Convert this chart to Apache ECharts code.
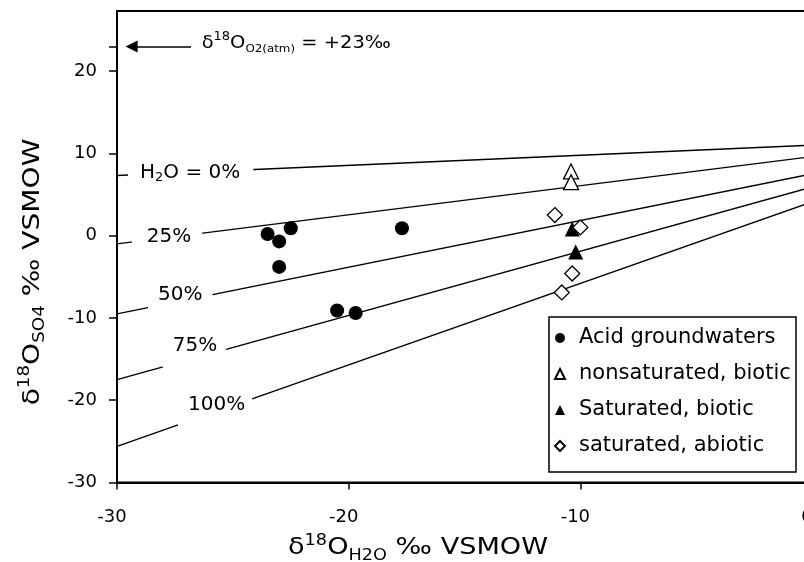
<!DOCTYPE html>
<html>
<head>
<meta charset="utf-8">
<script src="https://cdn.jsdelivr.net/npm/echarts@6/dist/echarts.min.js"></script>
<style>
  html, body { margin: 0; padding: 0; background: #fff; }
  #chart { width: 804px; height: 562px; }
</style>
</head>
<body>
<div id="chart"></div>
<script>
// Sample groups: δ18O of water (x) and δ18O of sulfate (y), ‰ VSMOW
const acidX = [-23.5, -23.0, -22.5, -23.0, -17.7, -20.5, -19.7];
const acidY = [0.2, -0.7, 0.9, -3.8, 0.9, -9.1, -9.4];
const nonsatBioX = [-10.4, -10.4];
const nonsatBioY = [7.8, 6.5];
const satBioX = [-10.35, -10.2];
const satBioY = [0.8, -2.0];
const satAbioX = [-11.1, -10.0, -10.35, -10.8];
const satAbioY = [2.5, 1.0, -4.6, -6.9];

// Mixing lines: share of sulfate oxygen coming from water, evaluated at both ends of the x range
const mixNames = ['H2O = 0%', '25%', '50%', '75%', '100%'];
const mixX = [-30, 0];
const mixStartY = [7.3, -1.0, -9.5, -17.5, -25.6];
const mixEndY = [11.0, 9.6, 7.5, 5.9, 4.1];

// Atmospheric O2 reference value and its arrow extent
const o2Atm = 23;
const o2ArrowX = [-26.8, -29.37];

// Axis ticks
const xTicks = [-30, -20, -10, 0];
const yLabelTicks = [-30, -20, -10, 0, 10, 20];
const yTickMarks = [-30, -20, -10, 0, 10, 20, 23];

const seriesNames = ['Acid groundwaters', 'nonsaturated, biotic', 'Saturated, biotic', 'saturated, abiotic'];

const FONT = 'DejaVu Sans';

function pairs(xs, ys) { return xs.map((x, i) => [x, ys[i]]); }

const lineSeries = mixNames.map((name, i) => {
  const s = {
    name: name,
    type: 'line',
    data: [[mixX[0], mixStartY[i]], [mixX[1], mixEndY[i]]],
    symbol: 'none',
    silent: true,
    z: 2,
    lineStyle: { color: '#000', width: 1.4 }
  };
  if (i === 0) {
    s.markLine = {
      silent: true,
      symbol: 'none',
      label: { show: false },
      lineStyle: { color: '#000', width: 1.5, type: 'solid' },
      emphasis: { disabled: true },
      data: [[
        { coord: [o2ArrowX[0], o2Atm], symbol: 'none' },
        { coord: [o2ArrowX[1], o2Atm], symbol: 'triangle', symbolSize: 12 }
      ]]
    };
  }
  return s;
});

const scatterSeries = [
  { name: seriesNames[0], type: 'scatter', data: pairs(acidX, acidY), symbol: 'circle', symbolSize: 14,
    itemStyle: { color: '#000', opacity: 1 } },
  { name: seriesNames[1], type: 'scatter', data: pairs(nonsatBioX, nonsatBioY), symbol: 'triangle', symbolSize: 15,
    itemStyle: { color: '#fff', borderColor: '#000', borderWidth: 1.3, opacity: 1 } },
  { name: seriesNames[2], type: 'scatter', data: pairs(satBioX, satBioY), symbol: 'triangle', symbolSize: 15,
    itemStyle: { color: '#000', opacity: 1 } },
  { name: seriesNames[3], type: 'scatter', data: pairs(satAbioX, satAbioY), symbol: 'diamond', symbolSize: 15,
    itemStyle: { color: '#fff', borderColor: '#000', borderWidth: 1.3, opacity: 1 } }
];
scatterSeries.forEach(s => { s.z = 5; s.silent = true; });

// Rich text styles for the titles and annotations
const titleRich = {
  b: { fontFamily: FONT, fontSize: 23, lineHeight: 30, fill: '#000' },
  sup: { fontFamily: FONT, fontSize: 15, lineHeight: 15, verticalAlign: 'top', fill: '#000' },
  sub: { fontFamily: FONT, fontSize: 15, lineHeight: 15, verticalAlign: 'bottom', fill: '#000' }
};
const noteRich = {
  b: { fontFamily: FONT, fontSize: 18, lineHeight: 24, fill: '#000' },
  sup: { fontFamily: FONT, fontSize: 12, lineHeight: 12, verticalAlign: 'top', fill: '#000' },
  sub: { fontFamily: FONT, fontSize: 11, lineHeight: 11, verticalAlign: 'bottom', fill: '#000' }
};
const lineLabelRich = {
  b: { fontFamily: FONT, fontSize: 20, lineHeight: 22, fill: '#000' },
  s: { fontFamily: FONT, fontSize: 13, lineHeight: 13, verticalAlign: 'bottom', fill: '#000' }
};

function lineLabel(text, x, y, padding) {
  return {
    type: 'text', x: x, y: y, z: 10, silent: true,
    style: {
      text: text, rich: lineLabelRich, fontFamily: FONT, fontSize: 20, lineHeight: 22,
      align: 'left', verticalAlign: 'top', backgroundColor: '#fff', padding: padding, fill: '#000'
    }
  };
}

const option = {
  animation: false,
  backgroundColor: '#fff',
  grid: { left: 117, top: 11, width: 695, height: 471.5, show: true, borderColor: '#000', borderWidth: 2,
    backgroundColor: 'transparent', containLabel: false, outerBoundsMode: 'none' },
  xAxis: {
    type: 'value', min: -30, max: 0, interval: 10,
    splitLine: { show: false },
    axisLine: { onZero: false, lineStyle: { color: '#000', width: 2 } },
    axisTick: { inside: false, length: 7, lineStyle: { color: '#000', width: 1.5 } },
    axisLabel: { margin: 26, fontFamily: FONT, fontSize: 18, color: '#000', padding: [0, 10, 0, 0],
      customValues: xTicks, hideOverlap: false }
  },
  yAxis: {
    type: 'value', min: -30, max: 27.3,
    splitLine: { show: false },
    axisLine: { onZero: false, lineStyle: { color: '#000', width: 2 } },
    axisTick: { inside: false, length: 8, lineStyle: { color: '#000', width: 1.5 }, customValues: yTickMarks },
    axisLabel: { margin: 20, fontFamily: FONT, fontSize: 18, color: '#000', customValues: yLabelTicks }
  },
  legend: {
    data: seriesNames,
    orient: 'vertical',
    left: 554, top: 327,
    padding: 0,
    itemGap: 14,
    itemWidth: 10, itemHeight: 10,
    z: 6,
    textStyle: { fontFamily: FONT, fontSize: 21, lineHeight: 22, color: '#000', padding: [0, 0, 0, 9] },
    selectedMode: false
  },
  graphic: [
    { type: 'rect', z: 3, silent: true,
      shape: { x: 549, y: 317, width: 247, height: 155 },
      style: { fill: '#fff', stroke: '#000', lineWidth: 1.5 } },
    lineLabel('{b|H}{s|2}{b|O = 0%}', 128, 160, [2, 13, 2, 12]),
    lineLabel('{b|25%}', 132, 223.7, [2, 11, 2, 14.7]),
    lineLabel('{b|50%}', 148, 282, [2, 10, 5, 10]),
    lineLabel('{b|75%}', 162.7, 332.7, [2, 9, 12, 10]),
    lineLabel('{b|100%}', 178, 392, [2, 7, 10, 10]),
    { type: 'text', x: 201.7, y: 43, z: 10, silent: true, scaleX: 1.08,
      style: { text: '{b|δ}{sup|18}{b|O}{sub|O2(atm)}{b| = +23‰}', rich: noteRich,
        align: 'left', verticalAlign: 'middle', fill: '#000' } },
    { type: 'text', x: 288, y: 548.5, z: 10, silent: true, scaleX: 1.18,
      style: { text: '{b|δ}{sup|18}{b|O}{sub|H2O}{b| ‰ VSMOW}', rich: titleRich,
        align: 'left', verticalAlign: 'middle', fill: '#000' } },
    { type: 'text', x: 33, y: 272, z: 10, silent: true, rotation: Math.PI / 2, scaleX: 1.22,
      style: { text: '{b|δ}{sup|18}{b|O}{sub|SO4}{b| ‰ VSMOW}', rich: titleRich,
        align: 'center', verticalAlign: 'middle', fill: '#000' } }
  ],
  series: lineSeries.concat(scatterSeries)
};

const chart = echarts.init(document.getElementById('chart'), null, { renderer: 'canvas' });
chart.setOption(option);
</script>
</body>
</html>
